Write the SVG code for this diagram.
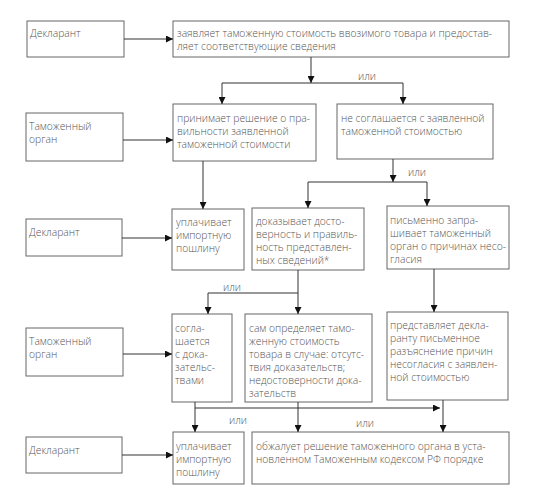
<svg xmlns="http://www.w3.org/2000/svg" width="539" height="493" viewBox="0 0 539 493">
<defs>
<marker id="ah" viewBox="0 0 10 10" refX="10" refY="5" markerWidth="8" markerHeight="7" markerUnits="userSpaceOnUse" orient="auto">
<path d="M0,0 L10,5 L0,10 z" fill="#111"/>
</marker>
<style>
.box{fill:#fff;stroke:#666;stroke-width:1}
.t{font-family:"Open Sans","Liberation Sans",sans-serif;font-size:10.3px;font-weight:300;fill:#555}
.c{fill:none;stroke:#333;stroke-width:1}
.a{marker-end:url(#ah)}
</style>
</defs>
<rect width="539" height="493" fill="#fff"/>

<g id="decl1"><rect class="box" x="27" y="21" width="97" height="36"/><text class="t" x="30" y="37">Декларант</text></g>
<g id="tam1"><rect class="box" x="26" y="113" width="97" height="48"/><text class="t" x="29" y="130">Таможенный</text><text class="t" x="29" y="143">орган</text></g>
<g id="decl2"><rect class="box" x="26" y="219" width="96" height="37"/><text class="t" x="29" y="236">Декларант</text></g>
<g id="tam2"><rect class="box" x="26" y="328" width="97" height="48"/><text class="t" x="29" y="345">Таможенный</text><text class="t" x="29" y="358">орган</text></g>
<g id="decl3"><rect class="box" x="26" y="437" width="96" height="36"/><text class="t" x="29" y="454">Декларант</text></g>

<g id="n1"><rect class="box" x="173" y="21" width="336" height="36"/>
<text class="t" x="177" y="37">заявляет таможенную стоимость ввозимого товара и предостав-</text>
<text class="t" x="177" y="50">ляет соответствующие сведения</text></g>

<g id="n2"><rect class="box" x="173" y="104" width="143" height="57"/>
<text class="t" x="177" y="122">принимает решение о пра-</text>
<text class="t" x="177" y="135">вильности заявленной</text>
<text class="t" x="177" y="148">таможенной стоимости</text></g>

<g id="n3"><rect class="box" x="337" y="104" width="156" height="55"/>
<text class="t" x="341" y="122">не соглашается с заявленной</text>
<text class="t" x="341" y="135">таможенной стоимостью</text></g>

<g id="n4"><rect class="box" x="172" y="209" width="72" height="61"/>
<text class="t" x="176" y="226">уплачивает</text>
<text class="t" x="176" y="239">импортную</text>
<text class="t" x="176" y="252">пошлину</text></g>

<g id="n5"><rect class="box" x="252" y="208" width="112" height="62"/>
<text class="t" x="256" y="225">доказывает досто-</text>
<text class="t" x="256" y="238">верность и правиль-</text>
<text class="t" x="256" y="251">ность представлен-</text>
<text class="t" x="256" y="264">ных сведений*</text></g>

<g id="n6"><rect class="box" x="387" y="206" width="122" height="63"/>
<text class="t" x="390" y="224">письменно запра-</text>
<text class="t" x="390" y="237">шивает таможенный</text>
<text class="t" x="390" y="250">орган о причинах несо-</text>
<text class="t" x="390" y="263">гласия</text></g>

<g id="n7"><rect class="box" x="172" y="314" width="60" height="88"/>
<text class="t" x="175" y="332">согла-</text>
<text class="t" x="175" y="345">шается</text>
<text class="t" x="175" y="358">с дока-</text>
<text class="t" x="175" y="371">зательс-</text>
<text class="t" x="175" y="384">твами</text></g>

<g id="n8"><rect class="box" x="245" y="314" width="127" height="88"/>
<text class="t" x="249" y="332">сам определяет тамо-</text>
<text class="t" x="249" y="345">женную стоимость</text>
<text class="t" x="249" y="358">товара в случае: отсутс-</text>
<text class="t" x="249" y="371">твия доказательств;</text>
<text class="t" x="249" y="384">недостоверности дока-</text>
<text class="t" x="249" y="397">зательств</text></g>

<g id="n9"><rect class="box" x="387" y="312" width="121" height="88"/>
<text class="t" x="390" y="329">представляет декла-</text>
<text class="t" x="390" y="342">ранту письменное</text>
<text class="t" x="390" y="355">разъяснение причин</text>
<text class="t" x="390" y="368">несогласия с заявлен-</text>
<text class="t" x="390" y="381">ной стоимостью</text></g>

<g id="n10"><rect class="box" x="173" y="432" width="71" height="52"/>
<text class="t" x="176" y="450">уплачивает</text>
<text class="t" x="176" y="463">импортную</text>
<text class="t" x="176" y="476">пошлину</text></g>

<g id="n11"><rect class="box" x="252" y="432" width="257" height="52"/>
<text class="t" x="256" y="450">обжалует решение таможенного органа в уста-</text>
<text class="t" x="256" y="463">новленном Таможенным кодексом РФ порядке</text></g>

<g id="connectors">
<path class="c a" d="M124,39 H173"/>
<path class="c a" d="M311,57 V83"/>
<path class="c" d="M222,83 H403"/>
<path class="c a" d="M222,83 V104"/>
<path class="c a" d="M403,83 V104"/>
<path class="c a" d="M123,140 H173"/>
<path class="c a" d="M203,161 V209"/>
<path class="c a" d="M393,159 V182"/>
<path class="c" d="M308,182 H427"/>
<path class="c a" d="M308,182 V208"/>
<path class="c a" d="M427,182 V206"/>
<path class="c a" d="M122,238 H172"/>
<path class="c a" d="M298,270 V314"/>
<path class="c" d="M208,293 H298"/>
<path class="c a" d="M208,293 V314"/>
<path class="c a" d="M434,269 V312"/>
<path class="c a" d="M123,354 H172"/>
<path class="c a" d="M195,402 V432"/>
<path class="c a" d="M195,408 H440"/>
<path class="c a" d="M298,402 V432"/>
<path class="c a" d="M443,400 V432"/>
<path class="c a" d="M122,455 H173"/>
<text class="t" x="367" y="80" text-anchor="middle">или</text>
<text class="t" x="417" y="176" text-anchor="middle">или</text>
<text class="t" x="232" y="291" text-anchor="middle">или</text>
<text class="t" x="238" y="424" text-anchor="middle">или</text>
<text class="t" x="365" y="427" text-anchor="middle">или</text>
</g>
</svg>
